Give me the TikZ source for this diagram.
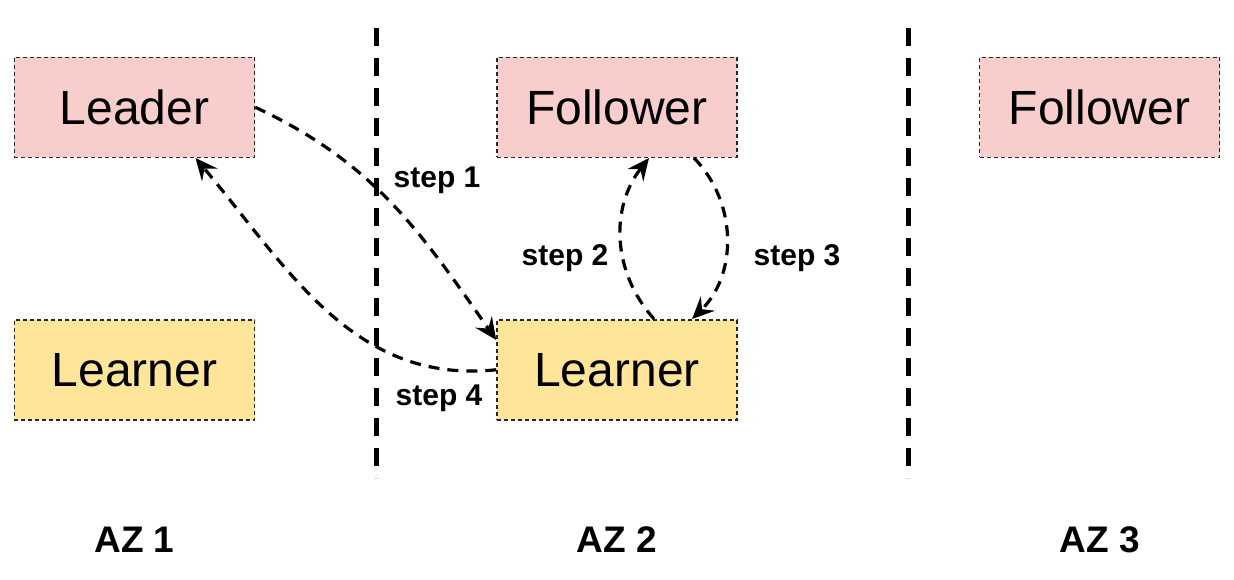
\documentclass[tikz,border=0pt]{standalone}
\usepackage{fontspec}
\setmainfont{Liberation Sans}
\usetikzlibrary{matrix,positioning,arrows.meta,calc}

\definecolor{rolepink}{HTML}{F8CECC}
\definecolor{learnyellow}{HTML}{FFE599}

\begin{document}
\begin{tikzpicture}[x=0.5pt, y=0.5pt,
  >={Stealth[length=11pt, width=10pt, inset=4pt]},
  box/.style={draw=black!85, line width=0.75pt, dash pattern=on 2pt off 1.5pt,
    minimum width=120pt, minimum height=50pt, inner sep=0pt, anchor=center,
    font=\fontsize{24}{28}\selectfont},
  rolebox/.style={box, fill=rolepink},
  learnbox/.style={box, fill=learnyellow},
  flow/.style={->, line width=1.6pt, dash pattern=on 5.5pt off 4pt},
  azline/.style={line width=2.5pt, dash pattern=on 9pt off 6pt},
  steplabel/.style={font=\fontsize{15}{18}\selectfont\bfseries},
  azlabel/.style={font=\fontsize{18.5}{22}\selectfont\bfseries}]
  \useasboundingbox (0,0) rectangle (1234,-579);

  \matrix (m) [matrix of nodes, row sep=80.5pt, column sep=120.5pt] at (617,-238.5)
  {
    |[rolebox]| Leader  & |[rolebox]| Follower & |[rolebox]| Follower \\
    |[learnbox]| Learner & |[learnbox]| Learner \\
  };

  % zone borders
  \draw[azline] (376,-28) -- (376,-478);
  \draw[azline] (908,-28) -- (908,-478);

  \coordinate (azrow) at (0,-540);
  \node[azlabel] (az1) at (m-2-1 |- azrow) {AZ 1};
  \node[azlabel] (az2) at (m-2-2 |- azrow) {AZ 2};
  \node[azlabel] (az3) at (m-1-3 |- azrow) {AZ 3};

  \path[flow]
  (m-1-1.east) edge [out=-25, in=125] ([yshift=-10.5pt]m-2-2.north west)
  ([xshift=18.5pt]m-2-2.north) edge [bend left=40] ([xshift=16pt]m-1-2.south)
  ([xshift=38.5pt]m-1-2.south) edge [bend left=45] ([xshift=37.5pt]m-2-2.north)
  (m-2-2.west) edge [out=186, in=-50] ([xshift=30.5pt]m-1-1.south);

  \node[steplabel] (s1) at (437,-180) {step 1};
  \node[steplabel] (s2) at (565,-258) {step 2};
  \node[steplabel] (s3) at (797,-258) {step 3};
  \node[steplabel] (s4) at (439,-398) {step 4};
\end{tikzpicture}
\end{document}
